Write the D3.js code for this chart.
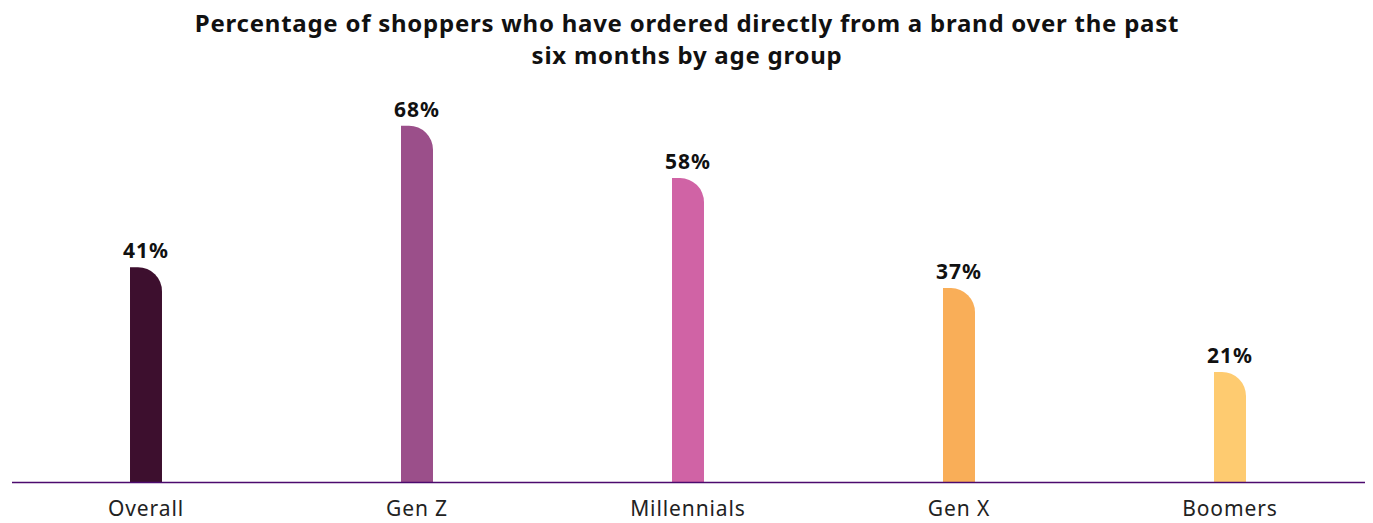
<!DOCTYPE html>
<html><head><meta charset="utf-8">
<script src="https://cdn.jsdelivr.net/npm/d3@7"></script>
<style>body{margin:0;background:#fff}svg{display:block}</style>
</head><body>
<script>
const categories = ["Overall", "Gen Z", "Millennials", "Gen X", "Boomers"];
const values = [41, 68, 58, 37, 21];
const colors = ["#3d0f2e", "#9b4f8a", "#d063a5", "#f9ae58", "#fecb70"];
const titleLines = ["Percentage of shoppers who have ordered directly from a brand over the past", "six months by age group"];

const W = 1373, H = 523;
const font = "'Noto Sans', 'Open Sans', sans-serif";
const svg = d3.select("body").append("svg").attr("width", W).attr("height", H);

const baseY = 482;
const x = d3.scaleBand().domain(categories).range([10.5, 1365.5]).paddingInner(0.882).paddingOuter(0.441);
const y = d3.scaleLinear().domain([0, 100]).range([baseY, baseY - 524]);

svg.append("g").selectAll("text").data(titleLines).join("text")
  .attr("x", 687).attr("y", (d, i) => 32 + i * 32)
  .attr("text-anchor", "middle").attr("font-family", font).attr("font-weight", 700)
  .attr("font-size", 24).attr("letter-spacing", 0.75).attr("fill", "#111").text(d => d);

const bw = x.bandwidth();
function barPath(x0, top, w, bottom) {
  const r = Math.min(24, w);
  return `M${x0},${bottom}V${top}H${x0 + w - r}A${r},${r} 0 0 1 ${x0 + w},${top + r}V${bottom}Z`;
}
svg.append("g").selectAll("path").data(categories).join("path")
  .attr("d", (c, i) => barPath(x(c), y(values[i]), bw, baseY))
  .attr("fill", (c, i) => colors[i]);

svg.append("g").selectAll("text").data(categories).join("text")
  .attr("x", c => x(c) + bw / 2).attr("y", (c, i) => y(values[i]) - 9)
  .attr("text-anchor", "middle").attr("font-family", font).attr("font-weight", 700)
  .attr("font-size", 21).attr("letter-spacing", 1).attr("fill", "#111").text((c, i) => values[i] + "%");

const axis = svg.append("g").attr("transform", `translate(0,${baseY})`)
  .call(d3.axisBottom(x).tickSize(0).tickPadding(19));
axis.select(".domain").attr("d", `M12,0.5H1365`).attr("stroke", "#4b0a6e").attr("stroke-width", 1.5);
axis.selectAll("text").attr("font-family", font).attr("font-size", 21).attr("letter-spacing", 0.9).attr("fill", "#222");
</script>
</body></html>
